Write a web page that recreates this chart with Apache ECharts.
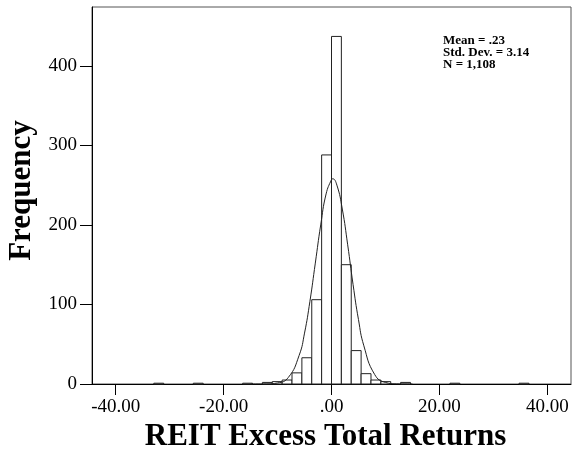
<!DOCTYPE html>
<html>
<head>
<meta charset="utf-8">
<script src="https://cdn.jsdelivr.net/npm/echarts@6/dist/echarts.min.js"></script>
<style>
  html, body { margin: 0; padding: 0; background: #fff; }
  #chart { width: 579px; height: 465px; }
</style>
</head>
<body>
<div id="chart"></div>
<script>
// histogram bins: lower edge of each bin and its count
const binWidth = 1.83;
const binStarts = [-32.94, -25.62, -16.47, -12.81, -10.98, -9.15, -7.32, -5.49, -3.66, -1.83,
  0, 1.83, 3.66, 5.49, 7.32, 9.15, 12.81, 21.96, 34.77];
const counts = [1, 1, 1, 2, 3, 5, 14, 33, 106, 288, 437, 150, 42, 13, 5, 3, 2, 1, 1];

// fitted normal curve
const curveX = [-15, -12, -10, -8, -6, -5, -4, -3, -2, -1, 0, 0.23, 1, 2, 3, 4, 5, 6, 8, 10, 12, 15];
const curveY = [0, 0.1, 1.3, 8.3, 36, 64, 104, 152, 200, 239, 257, 258, 250, 220, 175, 125, 81, 48, 12, 2, 0.2, 0];

const xTicks = [-40, -20, 0, 20, 40];
const yTicks = [0, 100, 200, 300, 400];
const statsLines = ["Mean = .23", "Std. Dev. = 3.14", "N = 1,108"];

const serif = "'Liberation Serif', 'DejaVu Serif', serif";

const chart = echarts.init(document.getElementById("chart"), null, { renderer: "canvas" });

const option = {
  animation: false,
  grid: {
    left: 92,
    right: 8,
    top: 7,
    bottom: 81,
    outerBoundsMode: "none",
    containLabel: false,
    show: true,
    borderColor: "#555",
    borderWidth: 1,
  },
  xAxis: {
    type: "value",
    min: -44.4,
    max: 44.4,
    name: "REIT Excess Total Returns",
    nameLocation: "middle",
    nameGap: 36,
    nameTextStyle: { fontFamily: serif, fontWeight: "bold", fontSize: 31, color: "#000", padding: [0, 12, 0, 0] },
    axisLine: { show: true, onZero: false, lineStyle: { color: "#000", width: 1 } },
    axisTick: { show: true, length: 11, customValues: xTicks, lineStyle: { color: "#000" } },
    axisLabel: {
      customValues: xTicks,
      margin: 14,
      fontFamily: serif,
      fontSize: 19,
      color: "#000",
      formatter: (v) => (v === 0 ? ".00" : v.toFixed(2)),
    },
    splitLine: { show: false },
  },
  yAxis: {
    type: "value",
    min: 0,
    max: 474,
    name: "Frequency",
    nameLocation: "middle",
    nameGap: 55,
    nameTextStyle: { fontFamily: serif, fontWeight: "bold", fontSize: 31, color: "#000", padding: [0, 0, 0, 10] },
    axisLine: { show: true, onZero: false, lineStyle: { color: "#000", width: 1 } },
    axisTick: { show: true, length: 12, customValues: yTicks, lineStyle: { color: "#000" } },
    axisLabel: {
      customValues: yTicks,
      margin: 15,
      fontFamily: serif,
      fontSize: 19,
      color: "#000",
    },
    splitLine: { show: false },
  },
  graphic: [
    {
      type: "text",
      left: 443,
      top: 34,
      style: {
        text: statsLines.join("\n"),
        font: "bold 13px " + serif,
        lineHeight: 12,
        fill: "#000",
      },
    },
  ],
  series: [
    {
      type: "custom",
      data: binStarts.map((s, i) => [s, s + binWidth, counts[i]]),
      encode: { x: [0, 1], y: 2 },
      renderItem: (params, api) => {
        const p0 = api.coord([api.value(0), 0]);
        const p1 = api.coord([api.value(1), api.value(2)]);
        return {
          type: "rect",
          shape: { x: p0[0], y: p1[1], width: p1[0] - p0[0], height: p0[1] - p1[1] },
          style: { fill: "#fff", stroke: "#222", lineWidth: 1 },
        };
      },
      z: 2,
    },
    {
      type: "line",
      data: curveX.map((x, i) => [x, curveY[i]]),
      smooth: true,
      showSymbol: false,
      lineStyle: { color: "#222", width: 1 },
      z: 3,
    },
  ],
};

chart.setOption(option);
</script>
</body>
</html>
